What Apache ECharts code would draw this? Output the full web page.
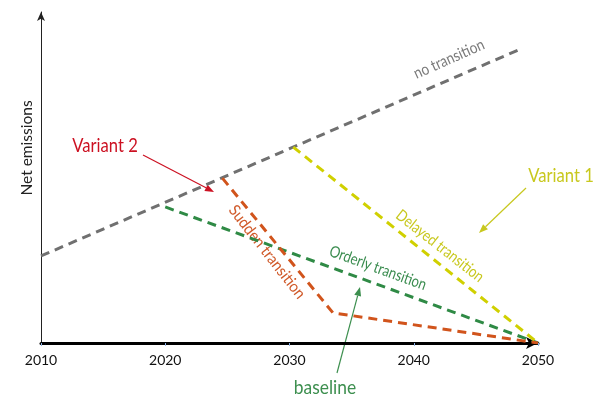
<!DOCTYPE html>
<html>
<head>
<meta charset="utf-8">
<script src="https://cdn.jsdelivr.net/npm/echarts@6/dist/echarts.min.js"></script>
<style>html,body{margin:0;padding:0;background:#fff}#c{width:597px;height:400px}</style>
</head>
<body>
<div id="c"></div>
<script>
// ---- data (years on x, relative net emissions 0-100 on y) ----
var xTicks = [2010, 2020, 2030, 2040, 2050];
var noTransitionX = [2010, 2048.4];
var noTransitionY = [26.3, 88.5];
var suddenX = [2024.6, 2033.5, 2050];
var suddenY = [49.8, 9.1, 0];
var orderlyX = [2020, 2050];
var orderlyY = [41.1, 0];
var delayedX = [2030.3, 2050];
var delayedY = [59.2, 0];

function pairs(xs, ys) { return xs.map(function (x, i) { return [x, ys[i]]; }); }

var FONT = "Lato, sans-serif";

var chart = echarts.init(document.getElementById('c'));

function dashed(name, xs, ys, color) {
  return {
    name: name, type: 'line', data: pairs(xs, ys), symbol: 'none',
    lineStyle: { color: color, width: 3, type: [9, 6] }, silent: true, animation: false
  };
}

function arrow(x1, y1, x2, y2, color) {
  var ang = Math.atan2(y2 - y1, x2 - x1);
  var L = 9, W = 3.5;
  var bx = x2 - L * Math.cos(ang), by = y2 - L * Math.sin(ang);
  var px = -Math.sin(ang) * W, py = Math.cos(ang) * W;
  return [
    { type: 'line', shape: { x1: x1, y1: y1, x2: bx, y2: by }, style: { stroke: color, lineWidth: 1.2 } },
    { type: 'polygon', shape: { points: [[x2, y2], [bx + px, by + py], [bx - px, by - py]] }, style: { fill: color } }
  ];
}

function label(text, x, y, deg, color, size, sx) {
  return {
    type: 'text', x: x, y: y, rotation: deg * Math.PI / 180, scaleX: sx || 1,
    style: { text: text, fill: color, fontSize: size, fontFamily: FONT, align: 'center', verticalAlign: 'middle' }
  };
}

var graphics = [
  label('Net emissions', 27, 148, 90, '#222', 15.5, 1),
  label('Variant 2', 105, 146, 0, '#cc1122', 20, 0.83),
  label('Variant 1', 561, 176, 0, '#c8c81e', 20, 0.83),
  label('baseline', 325, 388, 0, '#3d8f4f', 20, 0.87),
  label('no transition', 449, 59, 24, '#7a7a7a', 16, 0.85),
  label('Sudden transition', 267, 252, -52, '#d05a2a', 16, 0.92),
  label('Orderly transition', 378, 268, -20, '#3a8c4f', 16, 0.82),
  label('Delayed transition', 440, 246, -38, '#c8c81e', 16, 0.83)
].concat(arrow(143, 155, 214, 192, '#cc1122'))
 .concat(arrow(526, 188, 479, 233, '#c8c81e'))
 .concat(arrow(337, 373, 360, 287, '#3d8f4f'));

chart.setOption({
  animation: false,
  backgroundColor: '#fff',
  grid: { left: 41, right: 59, top: 12, bottom: 57, containLabel: false },
  xAxis: {
    type: 'value', min: xTicks[0], max: xTicks[xTicks.length - 1], interval: 10,
    axisLine: { show: true, lineStyle: { color: '#000', width: 3 }, symbol: ['none', 'arrow'], symbolSize: [9, 12] },
    axisTick: { show: true, length: 3, lineStyle: { color: '#8fb3e6', width: 1 } },
    axisLabel: { color: '#111', fontSize: 14, fontFamily: FONT, margin: 10, formatter: function (v) { return String(v); } },
    splitLine: { show: false }
  },
  yAxis: {
    type: 'value', min: 0, max: 100,
    axisLine: { show: true, lineStyle: { color: '#222', width: 1 }, symbol: ['none', 'arrow'], symbolSize: [6, 9] },
    axisTick: { show: false }, axisLabel: { show: false }, splitLine: { show: false }
  },
  series: [
    dashed('no transition', noTransitionX, noTransitionY, '#707070'),
    dashed('Orderly transition', orderlyX, orderlyY, '#2f8a45'),
    dashed('Delayed transition', delayedX, delayedY, '#d0d000'),
    dashed('Sudden transition', suddenX, suddenY, '#d1541c')
  ],
  graphic: graphics
});
</script>
</body>
</html>
